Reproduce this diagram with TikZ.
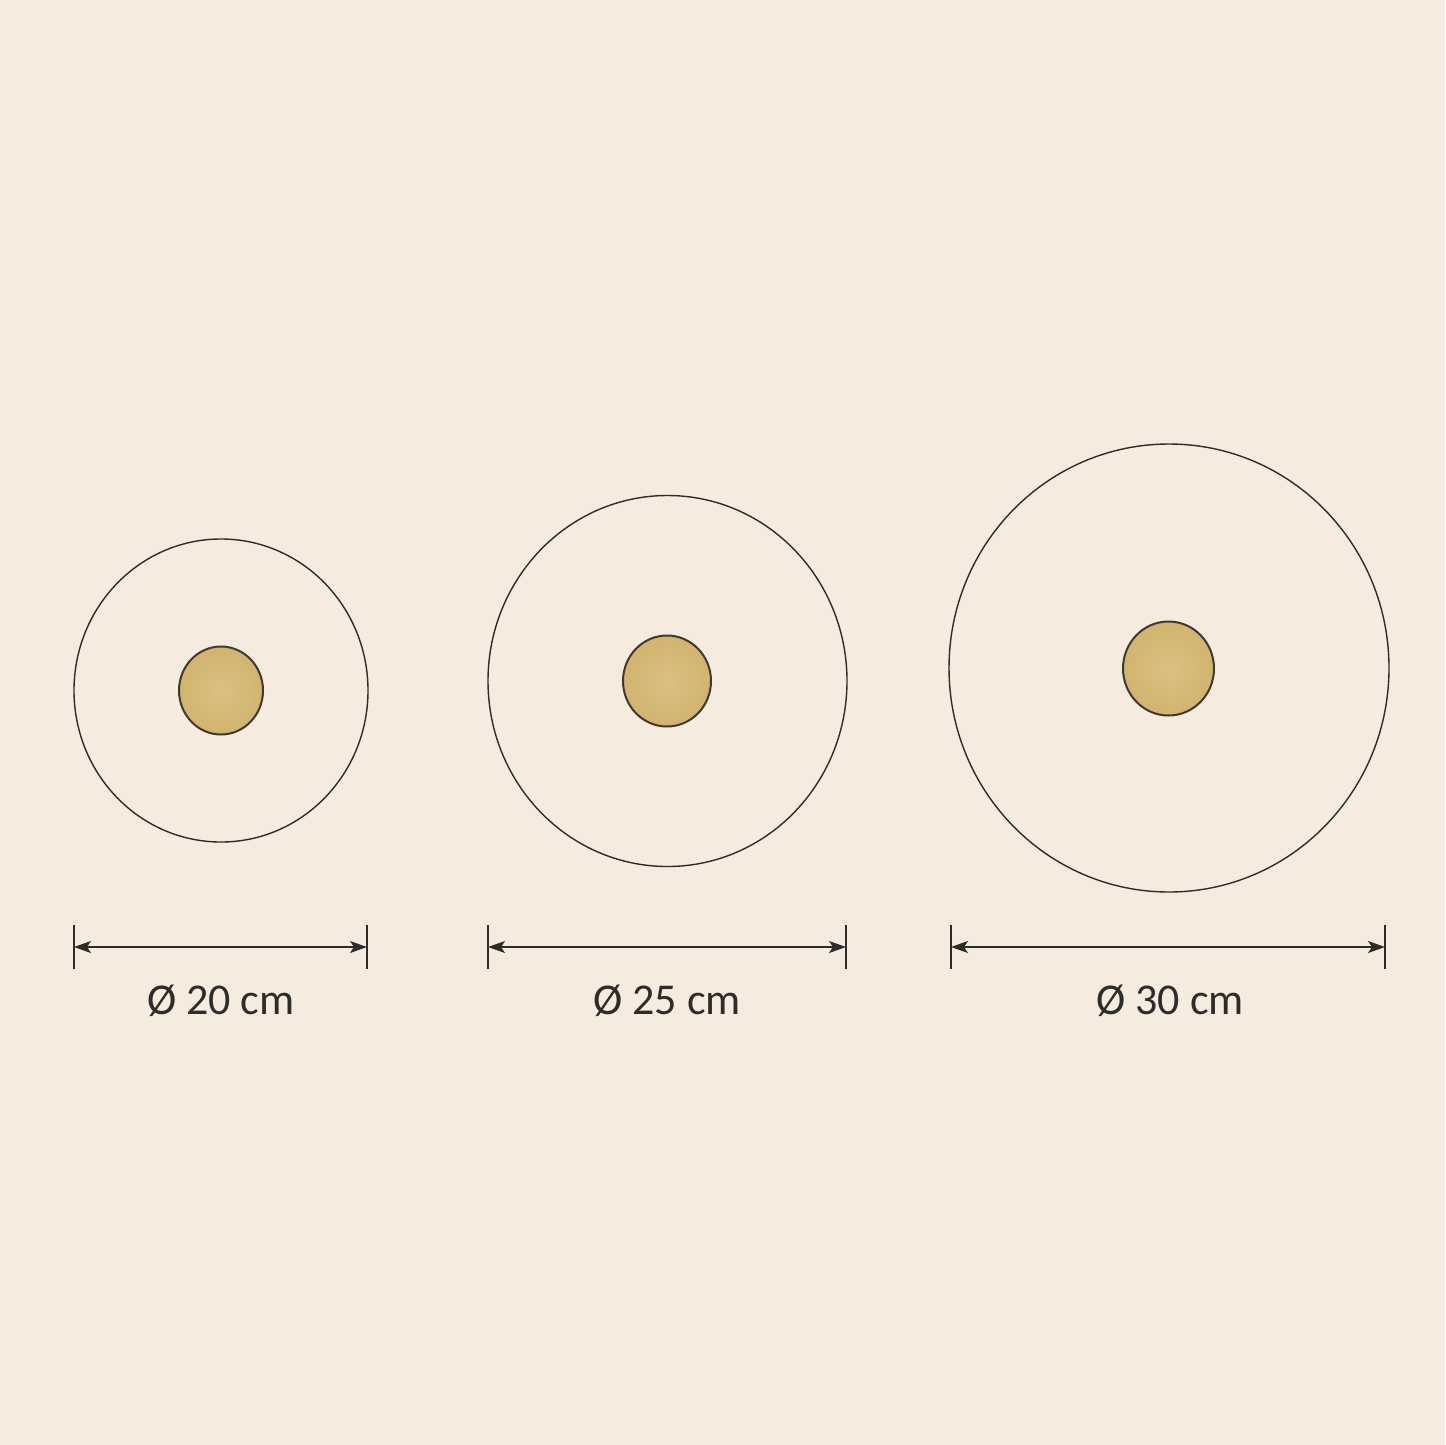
\documentclass[tikz,border=0pt]{standalone}
\usepackage{fontspec}
\setmainfont{Carlito}
\usetikzlibrary{arrows.meta}
\definecolor{bg}{HTML}{F6EBDF}
\definecolor{ink}{HTML}{2E2C2A}
\definecolor{gold}{HTML}{D2B46F}
\definecolor{goldlight}{HTML}{DCC083}
\begin{document}
\begin{tikzpicture}[x=1pt,y=-1pt,
  outline/.style={draw=ink,line width=1.4pt},
  boss/.style={draw=ink!90!gold,line width=2pt,inner color=goldlight,outer color=gold},
  dimline/.style={draw=ink,line width=1.3pt,{Stealth[length=17pt,width=12pt,inset=4pt]}-{Stealth[length=17pt,width=12pt,inset=4pt]}},
  tick/.style={draw=ink,line width=1.4pt},
  dimlabel/.style={text=ink,font=\fontsize{44}{52}\selectfont,inner sep=0pt,anchor=base}]
\fill[bg] (0,0) rectangle (1445,1445);
\useasboundingbox (0,0) rectangle (1445,1445);
% plates
\coordinate (c1) at (221,690.5);
\coordinate (c2) at (667.5,681);
\coordinate (c3) at (1169,668);
\draw[outline] (c1) ellipse [x radius=147,y radius=151.5];
\draw[outline] (c2) ellipse [x radius=179.5,y radius=185.5];
\draw[outline] (c3) ellipse [x radius=220,y radius=224];
\shade[boss] (221,690.5) ellipse [x radius=42,y radius=44];
\shade[boss] (667,681) ellipse [x radius=44,y radius=45.5];
\shade[boss] (1168.5,668.5) ellipse [x radius=45.5,y radius=47];
% dimension ticks
\coordinate (a1) at (74,947);  \coordinate (b1) at (367,947);
\coordinate (a2) at (488,947); \coordinate (b2) at (846,947);
\coordinate (a3) at (951,947); \coordinate (b3) at (1385,947);
\foreach \p in {a1,b1,a2,b2,a3,b3}{
  \draw[tick] ([yshift=-22pt]\p) -- ([yshift=22pt]\p);
}
\draw[dimline] (a1) -- (b1);
\draw[dimline] (a2) -- (b2);
\draw[dimline] (a3) -- (b3);
% labels
\node[dimlabel] (l1) at (221,1014) {Ø 20 cm};
\node[dimlabel] (l2) at (667,1014) {Ø 25 cm};
\node[dimlabel] (l3) at (1170,1014) {Ø 30 cm};
\end{tikzpicture}
\end{document}
